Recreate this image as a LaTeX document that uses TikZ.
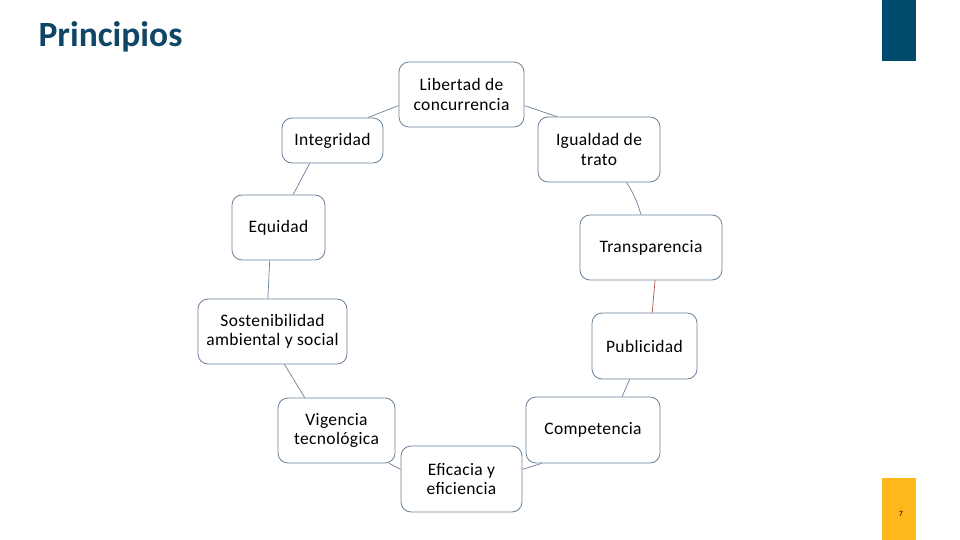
\documentclass[tikz,border=0pt]{standalone}
\usepackage{fontspec}
\setmainfont{Carlito}
\newfontfamily\boxfont[LetterSpace=2]{Carlito}
\definecolor{navy}{HTML}{004A6E}
\definecolor{titleblue}{HTML}{0F4566}
\definecolor{gold}{HTML}{FFB81C}
\definecolor{boxline}{HTML}{6A8099}
\definecolor{redline}{HTML}{B0504A}
\begin{document}
\begin{tikzpicture}[x=1pt,y=-1pt,
  pbox/.style={draw=boxline, line width=0.8pt, rounded corners=10pt, align=center,
    inner sep=0pt, font=\boxfont\fontsize{17.5}{19.5}\selectfont},
  link/.style={draw=boxline, line width=0.7pt}]
\useasboundingbox (0,0) rectangle (960,540);
\fill[white] (0,0) rectangle (960,540);
\fill[navy] (882,0) rectangle (916,61);
\fill[gold] (882,478) rectangle (916,540);
\node[font=\fontsize{8}{9}\selectfont] (num) at (901,514) {7};
\node[anchor=west, text=titleblue, font=\fontsize{35.5}{38}\selectfont\bfseries] (title) at (35,37) {Principios};

\node[pbox, minimum width=125pt, minimum height=65pt] (lib) at (461.5,94.5) {Libertad de\\concurrencia};
\node[pbox, minimum width=101pt, minimum height=45pt] (integ) at (332.5,140.5) {Integridad};
\node[pbox, minimum width=122pt, minimum height=65pt] (igual) at (599,149.5) {Igualdad de\\trato};
\node[pbox, minimum width=93pt, minimum height=65pt] (equi) at (278.5,227.5) {Equidad};
\node[pbox, minimum width=142pt, minimum height=65pt] (transp) at (651,247.5) {Transparencia};
\node[pbox, minimum width=149pt, minimum height=65pt] (sost) at (272.5,331.5) {Sostenibilidad\\ambiental y social};
\node[pbox, minimum width=105pt, minimum height=66pt] (publ) at (644.5,346) {Publicidad};
\node[pbox, minimum width=117pt, minimum height=65pt] (vig) at (336.5,430.5) {Vigencia\\tecnológica};
\node[pbox, minimum width=134pt, minimum height=66pt] (comp) at (593,430) {Competencia};
\node[pbox, minimum width=121pt, minimum height=66pt] (efic) at (461.5,479) {Eficacia y\\eficiencia};

\draw[link] (lib.190) -- (integ.33);
\draw[link] (lib.350) -- (igual.142);
\draw[link] (igual.310) to[bend left=8] (transp.107);
\draw[draw=redline, line width=0.7pt] (transp.277) -- (publ.77);
\draw[link] (publ.246) -- (comp.49);
\draw[link] (comp.213) -- (efic.9);
\draw[link] (efic.171) -- (vig.328);
\draw[link] (vig.134) -- (sost.290);
\draw[link] (sost.98) -- (equi.255);
\draw[link] (equi.66) -- (integ.225);
\end{tikzpicture}
\end{document}
